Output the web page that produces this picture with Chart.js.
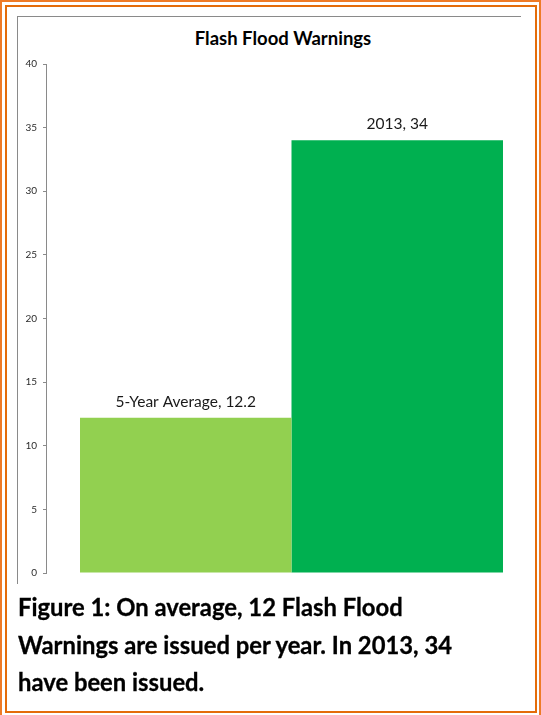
<!DOCTYPE html>
<html>
<head>
<meta charset="utf-8">
<script src="https://cdn.jsdelivr.net/npm/chart.js@4.4.1/dist/chart.umd.min.js"></script>
<style>
  html, body { margin: 0; padding: 0; background: #fff; overflow: hidden; }
  #page { position: relative; width: 541px; height: 715px; overflow: hidden; background: #fff; }
  .outer { position: absolute; left: 0; top: 0; width: 541px; height: 718px; box-sizing: border-box; border: 2.5px solid #EE7B27; }
  .inner { position: absolute; left: 5px; top: 5px; width: 532px; height: 708px; box-sizing: border-box; border: 2.5px solid #E46C0A; }
  .frame { position: absolute; left: 17px; top: 16px; width: 504px; height: 568px; box-sizing: border-box; border-top: 1px solid #8a8a8a; border-left: 1px solid #8a8a8a; }
  #title { position: absolute; left: 0; width: 566px; top: 26px; text-align: center; font-family: Lato, sans-serif; font-weight: bold; font-size: 18.5px; color: #000; line-height: 24px; }
  #caption { position: absolute; left: 18px; top: 589px; font-family: Lato, sans-serif; font-weight: bold; font-size: 23.8px; line-height: 37.5px; color: #000; white-space: nowrap; -webkit-text-stroke: 0.3px #000; }
  canvas { position: absolute; left: 0; top: 0; }
</style>
</head>
<body>
<div id="page">
  <div class="outer"></div>
  <div class="inner"></div>
  <div class="frame"></div>
  <div id="title">Flash Flood Warnings</div>
  <canvas id="c" width="541" height="715"></canvas>
  <div id="caption">Figure 1: On average, 12 Flash Flood<br>Warnings are issued per year. In 2013, 34<br>have been issued.</div>
</div>
<script>
const categories = ['5-Year Average', '2013'];
const values = [12.2, 34];
const barColors = ['#92D050', '#00B050'];
const yMin = 0;
const yMax = 40;
const yStep = 5;

const datasets = categories.map((cat, i) => ({
  label: cat,
  data: [values[i]],
  backgroundColor: barColors[i],
  borderWidth: 0,
  categoryPercentage: 0.8615,
  barPercentage: 1.0
}));

const dataLabels = {
  id: 'dataLabels',
  afterDatasetsDraw(chart) {
    const ctx = chart.ctx;
    ctx.save();
    ctx.font = '15.5px Lato, sans-serif';
    ctx.fillStyle = '#1a1a1a';
    ctx.textAlign = 'center';
    ctx.textBaseline = 'alphabetic';
    chart.data.datasets.forEach((ds, i) => {
      const meta = chart.getDatasetMeta(i);
      meta.data.forEach((bar, j) => {
        ctx.fillText(ds.label + ', ' + ds.data[j], bar.x, bar.y - 11);
      });
    });
    ctx.restore();
  }
};

new Chart(document.getElementById('c'), {
  type: 'bar',
  data: { labels: [''], datasets },
  options: {
    responsive: false,
    animation: false,
    devicePixelRatio: 1,
    layout: { padding: { left: 0, right: 4, top: 64, bottom: 142 } },
    plugins: { legend: { display: false }, title: { display: false }, tooltip: { enabled: false } },
    scales: {
      x: { display: false },
      y: {
        min: yMin, max: yMax,
        afterFit(scale) { scale.width = 46; },
        ticks: { stepSize: yStep, padding: 6, color: '#2b2b2b', font: { family: 'Lato, sans-serif', size: 10 } },
        grid: { display: true, drawOnChartArea: false, drawTicks: true, tickLength: 3, color: '#8a8a8a' },
        border: { display: true, color: '#8a8a8a', width: 1 }
      }
    }
  },
  plugins: [dataLabels]
});
</script>
</body>
</html>
